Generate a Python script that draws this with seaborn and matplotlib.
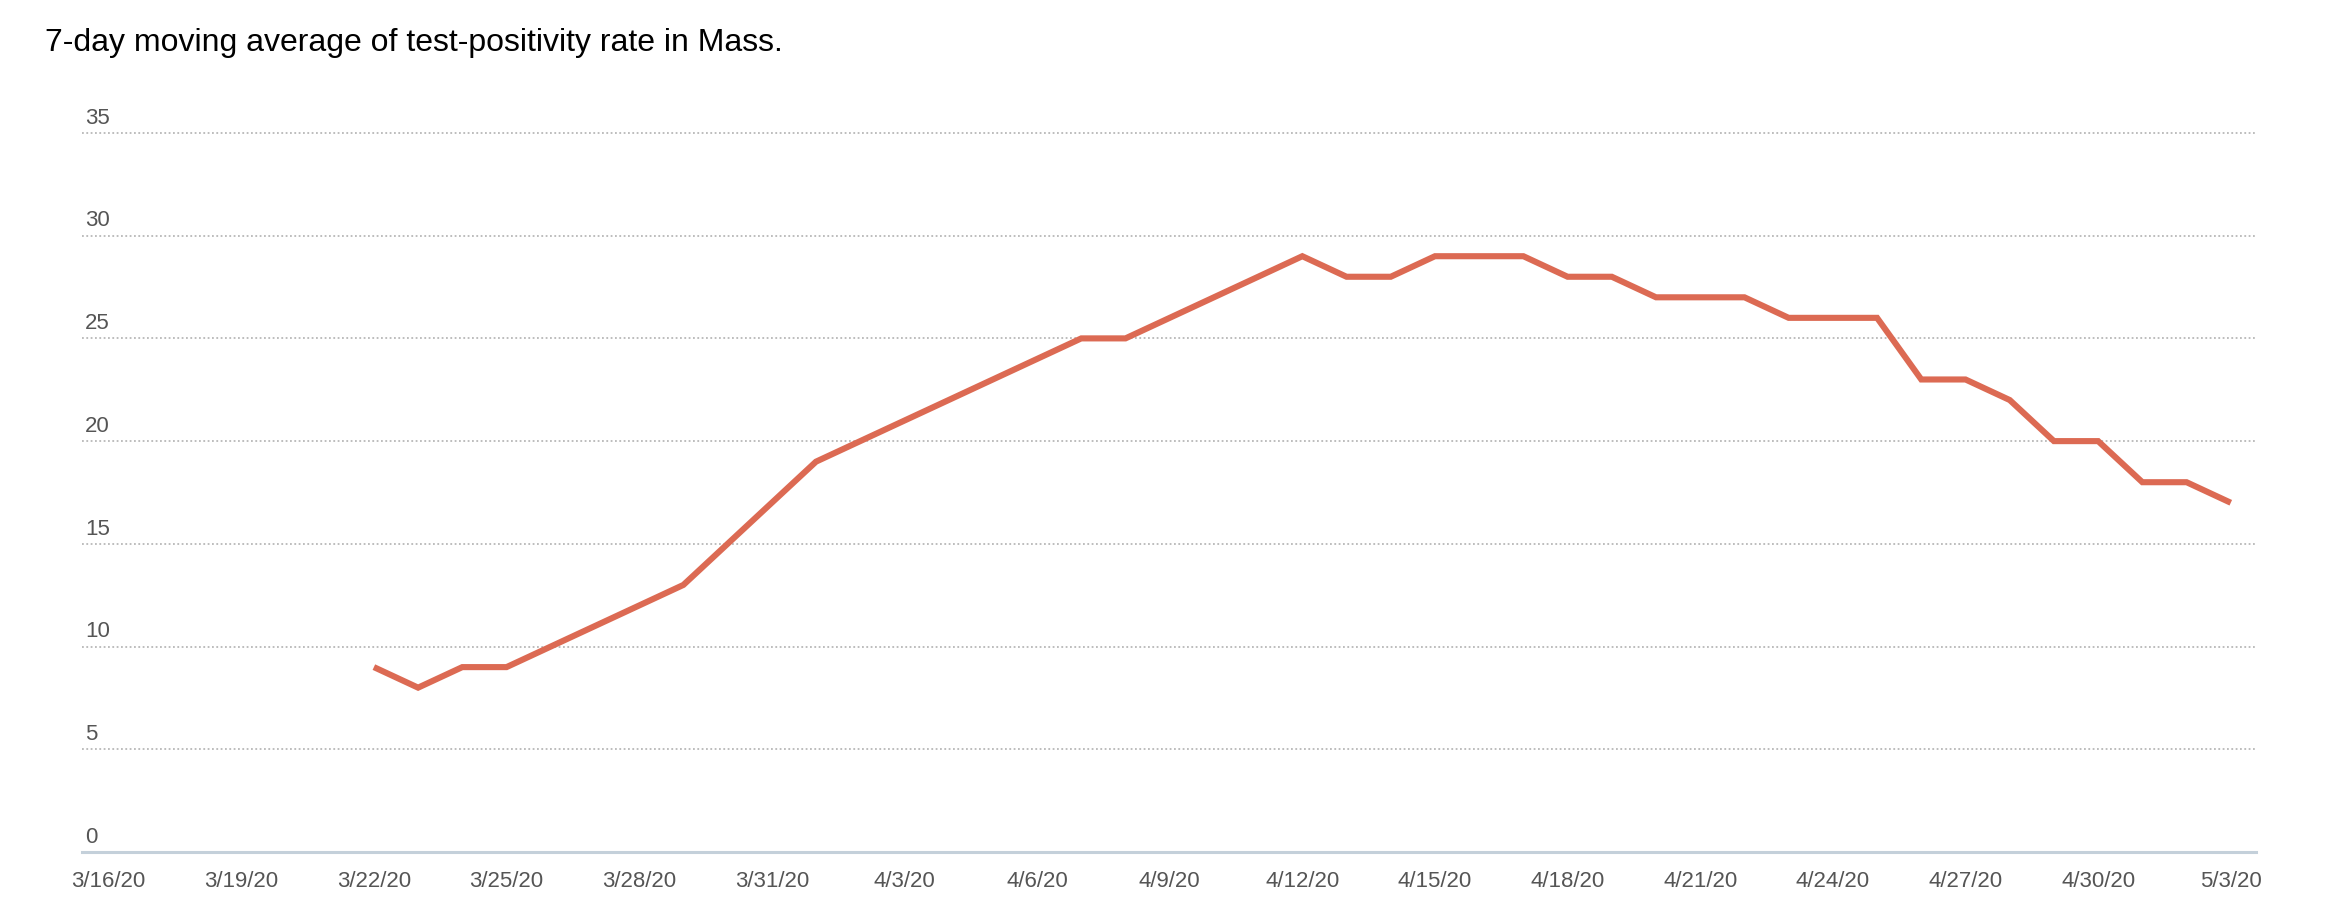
"""7-day moving average of test-positivity rate in Massachusetts."""

import matplotlib.pyplot as plt
import matplotlib.dates as mdates
import pandas as pd
import seaborn as sns

# data (percent, one value per day)
DATES = pd.date_range("2020-03-22", "2020-05-03", freq="D")
POSITIVITY = [
    9, 8, 9, 9, 10, 11, 12, 13, 15, 17,          # 3/22 - 3/31
    19, 20, 21, 22, 23, 24, 25, 25, 26, 27,      # 4/1 - 4/10
    28, 29, 28, 28, 29, 29, 29, 28, 28, 27,      # 4/11 - 4/20
    27, 27, 26, 26, 26, 23, 23, 22, 20, 20,      # 4/21 - 4/30
    18, 18, 17,                                  # 5/1 - 5/3
]
TICK_DATES = pd.date_range("2020-03-16", "2020-05-03", freq="3D")
Y_TICKS = [0, 5, 10, 15, 20, 25, 30, 35]

TITLE = "7-day moving average of test-positivity rate in Mass."
LINE_COLOR = "#dc6a53"
TEXT_COLOR = "#555555"

sns.set_theme(style="white")
plt.rcParams["font.family"] = ["Liberation Sans", "DejaVu Sans"]

df = pd.DataFrame({"date": DATES, "rate": POSITIVITY})

fig = plt.figure(figsize=(23.32, 9.22), dpi=100)
ax = fig.add_axes([0.0352, 0.0759, 0.9322, 0.7866])

sns.lineplot(data=df, x="date", y="rate", ax=ax, color=LINE_COLOR,
             linewidth=4.4, solid_joinstyle="miter", solid_capstyle="butt")

ax.set_ylim(0, 35.3)
ax.set_xlim(TICK_DATES[0] - pd.Timedelta(days=0.6), DATES[-1] + pd.Timedelta(days=0.57))

# dotted horizontal gridlines
ax.set_yticks(Y_TICKS)
ax.set_yticklabels([])
ax.tick_params(axis="y", length=0)
ax.yaxis.grid(True, color="#b8b8b8", linestyle=(0, (1, 1.4)), linewidth=1.3)
ax.xaxis.grid(False)
for v in Y_TICKS:
    ax.annotate(str(v), xy=(0, v), xycoords=ax.get_yaxis_transform(),
                xytext=(2, 3), textcoords="offset points", ha="left", va="bottom",
                fontsize=16, color=TEXT_COLOR, annotation_clip=False)

ax.set_xticks(TICK_DATES)
ax.xaxis.set_major_formatter(mdates.DateFormatter("%-m/%-d/%y"))
ax.tick_params(axis="x", length=0, pad=14, labelsize=16, labelcolor=TEXT_COLOR)
ax.set_xlabel("")
ax.set_ylabel("")

for side in ["top", "right", "left"]:
    ax.spines[side].set_visible(False)
ax.spines["bottom"].set_color("#c4d0da")
ax.spines["bottom"].set_linewidth(2.2)

fig.text(45 / 2332, 1 - 43 / 922, TITLE, ha="left", va="center", fontsize=23, color="black")

fig.savefig("out.png", dpi=100)
plt.close(fig)
